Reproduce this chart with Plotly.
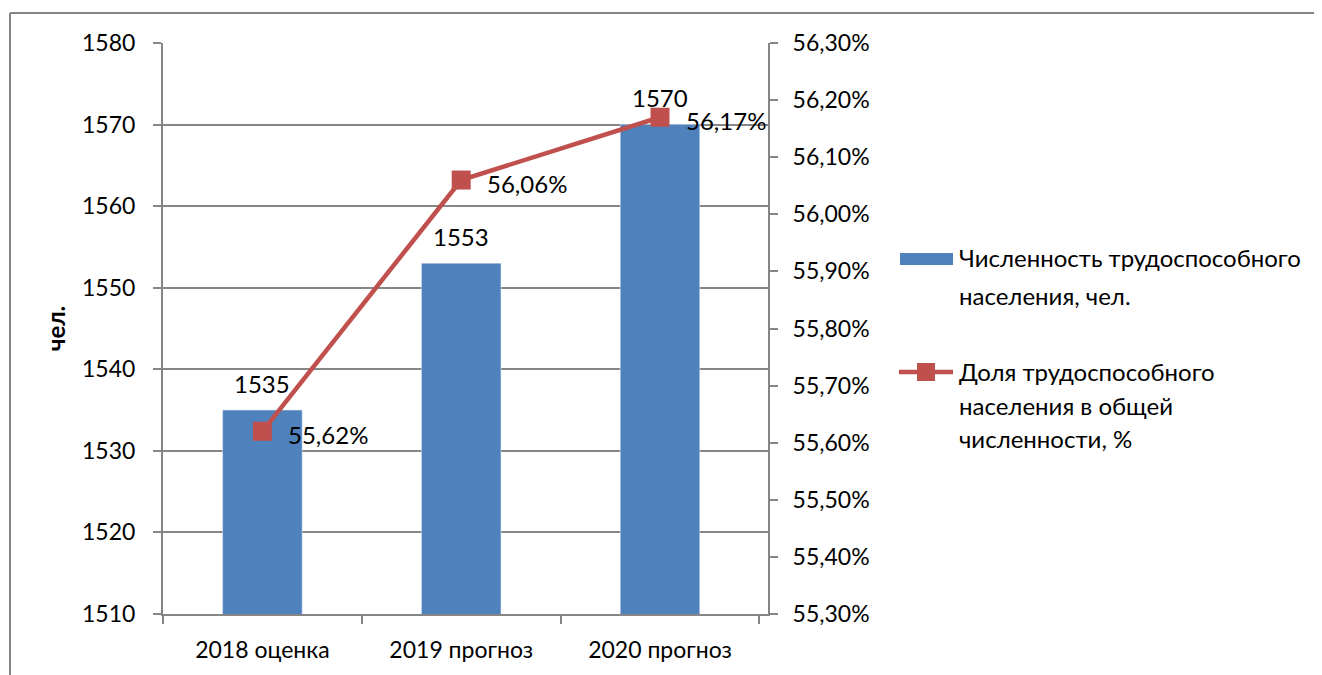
import plotly.graph_objects as go

categories = ["2018 оценка", "2019 прогноз", "2020 прогноз"]
population = [1535, 1553, 1570]
share = [0.5562, 0.5606, 0.5617]
share_labels = ["55,62%", "56,06%", "56,17%"]
bar_name = "Численность трудоспособного населения, чел."
line_name = "Доля трудоспособного населения в общей численности, %"
y_title = "чел."

OFF = 8  # page body margin
W, H = 1322 - OFF, 675 - OFF
L, R, T, B = 163 - OFF, 768 - OFF, 43 - OFF, 614 - OFF
FONT = "Lato"
FS = 23
FL = 24
GRID = "#868686"
BLUE = "#4F81BD"
RED = "#C0504D"

def px(x):
    return (x - OFF - L) / (R - L)

def py(y):
    return (B - (y - OFF)) / (B - T)

fig = go.Figure()
fig.add_trace(go.Bar(
    x=categories, y=population, name=bar_name, marker_color=BLUE,
    width=0.4, showlegend=False,
))
fig.add_trace(go.Scatter(
    x=categories, y=share, name=line_name, yaxis="y2", mode="lines+markers",
    line=dict(color=RED, width=4.5), marker=dict(symbol="square", size=19, color=RED),
    cliponaxis=False, showlegend=False,
))

for c, v in zip(categories, population):
    fig.add_annotation(x=c, y=v, xref="x", yref="y", text=str(v), showarrow=False,
                       xanchor="center", yanchor="middle", yshift=27,
                       font=dict(family=FONT, size=FL, color="black"))
for c, v, t in zip(categories, share, share_labels):
    fig.add_annotation(x=c, y=v, xref="x", yref="y2", text=t, showarrow=False,
                       xanchor="left", yanchor="middle", xshift=24, yshift=-3,
                       font=dict(family=FONT, size=FL, color="black"))

axis_common = dict(showline=True, linecolor=GRID, linewidth=2, ticks="outside",
                   ticklen=8, tickcolor=GRID, tickwidth=2,
                   tickfont=dict(family=FONT, size=FS, color="black"))

fig.update_layout(
    width=W, height=H,
    margin=dict(l=L, r=W - R, t=T, b=H - B),
    plot_bgcolor="white", paper_bgcolor="white",
    separators=", ",
    bargap=0.6,
    font=dict(family=FONT, size=FS, color="black"),
    xaxis=dict(**axis_common, tickson="boundaries", showgrid=False, ticklabelstandoff=14),
    yaxis=dict(**axis_common, range=[1510, 1580], dtick=10, showgrid=True,
               gridcolor=GRID, gridwidth=2, ticklabelstandoff=13,
               title=dict(text="<b>" + y_title + "</b>", standoff=10,
                          font=dict(family=FONT, size=FL, color="black"))),
    yaxis2=dict(**axis_common, overlaying="y", side="right", range=[0.553, 0.563],
                dtick=0.001, tickformat=".2%", showgrid=False, ticklabelstandoff=10),
    showlegend=False,
)

# frame
fig.add_shape(type="line", xref="paper", yref="paper", x0=px(10), x1=px(1330), y0=py(13), y1=py(13),
              line=dict(color=GRID, width=2))
fig.add_shape(type="line", xref="paper", yref="paper", x0=px(10), x1=px(10), y0=py(13), y1=py(680),
              line=dict(color=GRID, width=2))

# manual legend
fig.add_shape(type="rect", xref="paper", yref="paper", x0=px(900), x1=px(953), y0=py(253), y1=py(265),
              fillcolor=BLUE, line=dict(width=0))
fig.add_shape(type="line", xref="paper", yref="paper", x0=px(899), x1=px(953), y0=py(372), y1=py(372),
              line=dict(color=RED, width=4.5))
fig.add_shape(type="rect", xref="paper", yref="paper", x0=px(917), x1=px(935), y0=py(363), y1=py(381),
              fillcolor=RED, line=dict(width=0))

legend_lines = [
    ("Численность трудоспособного", 258),
    ("населения, чел.", 295),
    ("Доля трудоспособного", 372),
    ("населения в общей", 405),
    ("численности, %", 438),
]
for txt, yy in legend_lines:
    fig.add_annotation(text=txt, xref="paper", yref="paper", x=px(957), y=py(yy),
                       xanchor="left", yanchor="middle", showarrow=False,
                       font=dict(family=FONT, size=FL, color="black"))

fig.write_html("out.html")
